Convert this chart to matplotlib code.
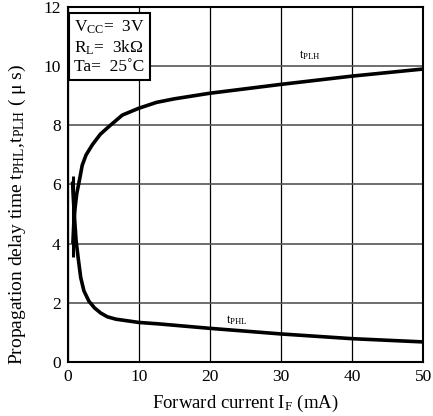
import matplotlib.pyplot as plt

plt.rcParams['font.family'] = ['Liberation Serif', 'DejaVu Serif']
plt.rcParams['mathtext.fontset'] = 'custom'
plt.rcParams['mathtext.rm'] = 'Liberation Serif'
plt.rcParams['mathtext.it'] = 'Liberation Serif:italic'

# Corriente directa (mA) y tiempos de retardo (us)
if_plh = [0.75, 0.9, 1.1, 1.3, 1.55, 1.76, 2.06, 2.6, 3.5, 4.6, 5.8, 7.7, 10, 12.5, 15, 20, 30, 40, 50]
t_plh = [4.0, 4.8, 5.3, 5.7, 6.0, 6.26, 6.65, 7.0, 7.35, 7.7, 7.96, 8.35, 8.58, 8.78, 8.9, 9.09, 9.39, 9.67, 9.91]

if_phl = [0.7, 0.8, 1.0, 1.2, 1.5, 1.85, 2.3, 3.0, 3.8, 4.65, 5.6, 6.8, 10, 12.85, 20, 30, 40, 50]
t_phl = [6.1, 5.6, 4.8, 4.1, 3.5, 2.85, 2.4, 2.05, 1.82, 1.65, 1.52, 1.44, 1.33, 1.28, 1.13, 0.94, 0.78, 0.67]

# Barra vertical cerca de 0
bar_x = [0.73, 0.73]
bar_y = [3.55, 6.3]

fig = plt.figure(figsize=(4.33, 4.16), dpi=100)
ax = fig.add_axes([0.156, 0.1305, 0.8216, 0.852])

ax.plot(if_plh, t_plh, color='black', lw=2.6, solid_capstyle='butt')
ax.plot(if_phl, t_phl, color='black', lw=2.6, solid_capstyle='butt')
ax.plot(bar_x, bar_y, color='black', lw=2.2, solid_capstyle='butt')

ax.set_xlim(0, 50)
ax.set_ylim(0, 12)
ax.set_xticks([0, 10, 20, 30, 40, 50])
ax.set_yticks([0, 2, 4, 6, 8, 10, 12])
ax.tick_params(length=0, labelsize=12.5, pad=5)
ax.yaxis.grid(True, color='#555555', lw=1.2)
ax.xaxis.grid(True, color='black', lw=0.9)
ax.set_axisbelow(True)
for s in ax.spines.values():
    s.set_linewidth(1.5)

ax.text(32.6, 10.39, r't$_{\rm PLH}$', fontsize=9, va='center')
ax.text(22.3, 1.41, r't$_{\rm PHL}$', fontsize=9, va='center')

ax.text(0.9, 11.6, r'V$_{\rm CC}$=  3V' + '\n' + r'R$_{\rm L}$=  3k$\Omega$' + '\n' + 'Ta=  25˚C',
        fontsize=12.5, va='top', ha='left', linespacing=1.15,
        bbox=dict(boxstyle='square,pad=0.3', fc='white', ec='black', lw=1.5))

ax.set_xlabel(r'Forward current I$_{\rm F}$ (mA)', fontsize=13.5, labelpad=6)
ax.set_ylabel(r'Propagation delay time t$_{\rm PHL}$,t$_{\rm PLH}$ ( μ s)', fontsize=14)
ax.yaxis.set_label_coords(-0.112, 0.415)

plt.savefig('out.png', dpi=100)
